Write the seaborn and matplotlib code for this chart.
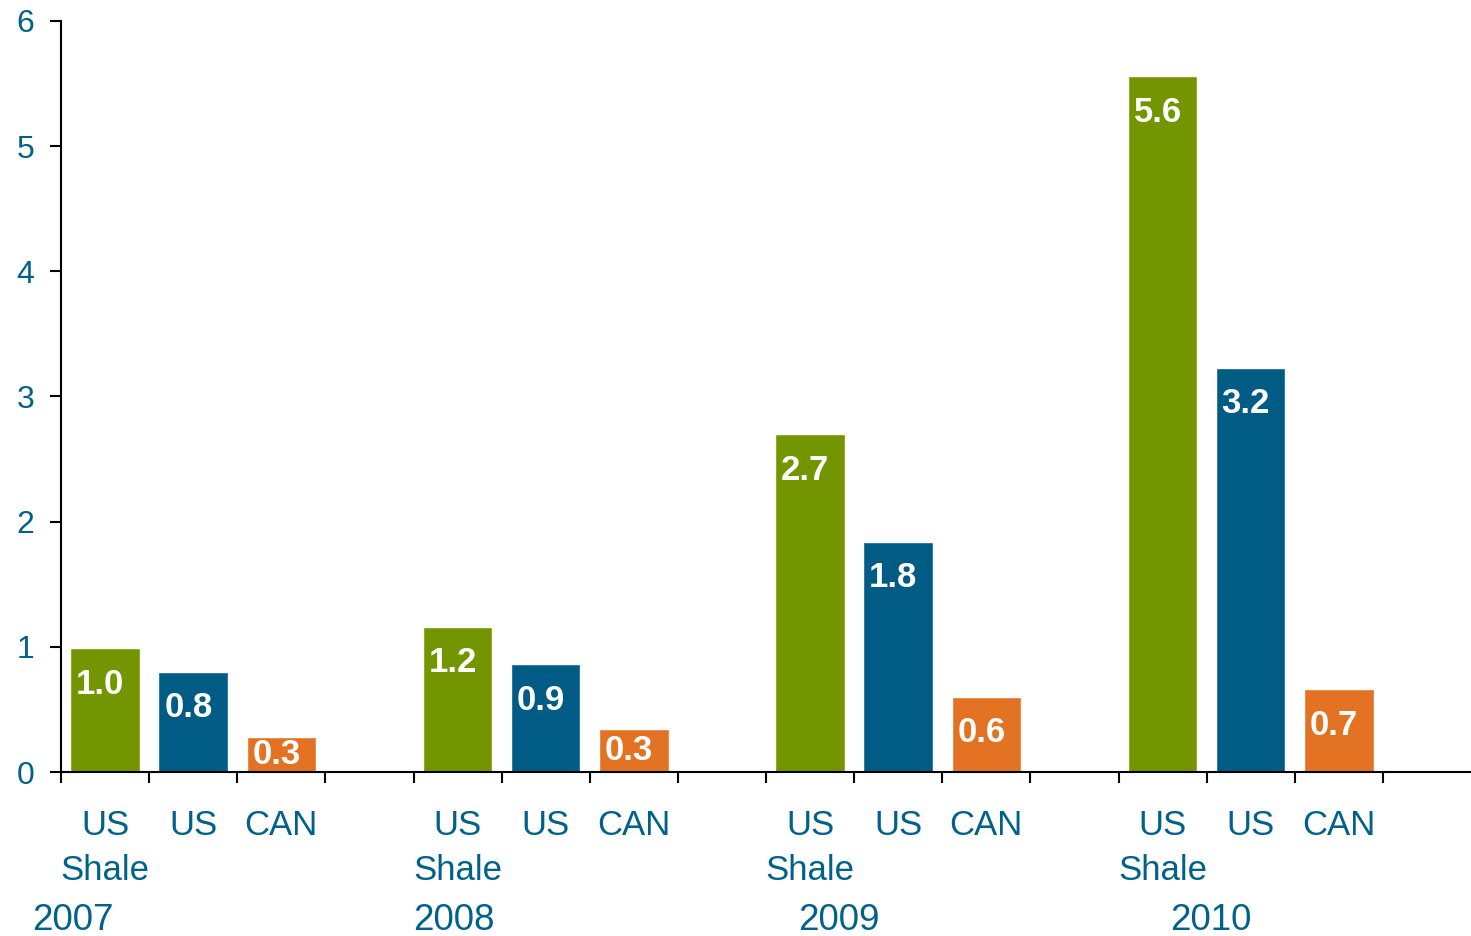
import numpy as np
import pandas as pd
import seaborn as sns
import matplotlib.pyplot as plt

# ---------------------------
# Data
# ---------------------------
years = ["2007", "2008", "2009", "2010"]
series = ["US Shale", "US", "CAN"]
series_labels = ["US\nShale", "US", "CAN"]
us_shale = [0.99, 1.16, 2.70, 5.56]
us = [0.80, 0.86, 1.84, 3.23]
can = [0.28, 0.34, 0.60, 0.66]

# year label positions (in slot units), as placed in the original
year_x = [-0.36, 3.96, 8.33, 12.55]

colors = {"US Shale": "#739600", "US": "#005C85", "CAN": "#E37222"}
text_color = "#00628B"

# ---------------------------
# Build long table: 4 slots per year (3 bars + gap)
# ---------------------------
rows = []
for i, yr in enumerate(years):
    for j, (s, vals) in enumerate(zip(series, [us_shale, us, can])):
        rows.append({"slot": i * 4 + j, "value": vals[i], "series": s, "year": yr})
df = pd.DataFrame(rows)

# ---------------------------
# Style
# ---------------------------
sns.set_style("ticks")
plt.rcParams["font.family"] = ["Liberation Sans", "DejaVu Sans"]

fig = plt.figure(figsize=(14.71, 9.36), dpi=100)
ax = fig.add_axes([61 / 1471, 1 - 772 / 936, 1 - 61 / 1471, (772 - 21) / 936])

sns.barplot(data=df, x="slot", y="value", hue="series", palette=colors,
            native_scale=True, dodge=False, width=0.79, errorbar=None,
            legend=False, saturation=1, ax=ax)

ax.set_xlim(-0.5, 15.5)
ax.set_ylim(0, 6)
ax.set_xlabel("")
ax.set_ylabel("")
sns.despine(ax=ax)
for sp in ["left", "bottom"]:
    ax.spines[sp].set_linewidth(1.5)
    ax.spines[sp].set_color("black")

ax.set_xticks(np.arange(-0.5, 15, 1))
ax.set_xticklabels([])
ax.tick_params(axis="x", length=8, width=1.5, color="black")
ax.set_yticks(range(0, 7))
ax.tick_params(axis="y", length=8, width=1.5, color="black", pad=11,
               labelsize=23, labelcolor=text_color)

# value labels inside bars
px_per_unit = 751 / 6
for _, r in df.iterrows():
    h_px = r["value"] * px_per_unit
    off = min(36, h_px / 2) * 0.72
    ax.annotate(f"{r['value']:.1f}", xy=(r["slot"], r["value"]),
                xytext=(-3.5, -off), textcoords="offset points",
                ha="center", va="center", color="white",
                fontsize=25, fontweight="bold")

# category labels under each bar
for _, r in df.iterrows():
    ax.annotate(series_labels[series.index(r["series"])], xy=(r["slot"], 0),
                xycoords=("data", "axes fraction"), xytext=(0, -26.5),
                textcoords="offset points", ha="center", va="top",
                fontsize=25, color=text_color, linespacing=1.45)

# year labels
for yr, xpos in zip(years, year_x):
    ax.annotate(yr, xy=(xpos, 0), xycoords=("data", "axes fraction"),
                xytext=(0, -114), textcoords="offset points",
                ha="center", va="baseline", fontsize=26.5, color=text_color)

fig.savefig("out.png", dpi=100)
